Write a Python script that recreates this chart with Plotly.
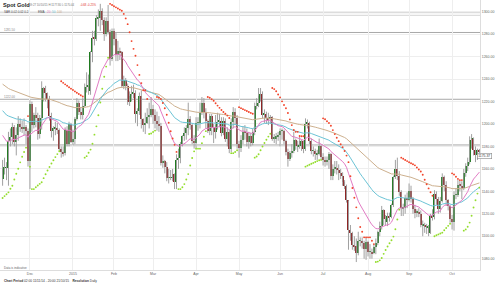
import pandas as pd
import plotly.graph_objects as go

# ---------------- data ----------------
all_days = pd.bdate_range("2014-11-11", "2015-10-21")
dates = [d for d in all_days if d.strftime("%m-%d") not in ("12-25", "01-01")]

opens = [
    1151,1160,1161,1161,1185,1188,1197,1184,1190,1200,1197,1196,1197,1194,
    1167,1218,1199,1208,1205,1191,1205,1232,1228,1226,1222,1207,1194,1196,1196,1195,1178,1175,1174,1195,1182,1200,
    1184,1187,1204,1219,1211,1208,1216,1233,1234,1229,1264,1277,1276,1294,1294,1301,1293,1280,1292,1282,1258,
    1283,1276,1261,1265,1264,1234,1239,1234,1220,1225,1227,1228,1209,1212,1225,1204,1199,1201,1206,1208,
    1213,1208,1203,1200,1198,1165,1167,1162,1152,1152,1152,1155,1148,1168,1170,1182,1189,1192,1196,1204,1199,1185,
    1183,1201,1201,1210,1219,1211,1203,1194,1207,1197,1193,1199,1202,1203,1192,1203,1187,1193,1178,1202,1211,1205,
    1182,1179,1186,1193,1192,1184,1189,1183,1193,1216,1219,1225,1227,1208,1209,1205,1204,1206,1187,1187,1189,
    1190,1194,1194,1185,1175,1169,1174,1176,1186,1180,1180,1185,1180,1178,1200,1201,1185,1176,1176,1173,1173,1180,
    1171,1168,1167,1168,1173,1154,1160,1161,1159,1156,1154,1148,1145,1132,1106,1103,1092,1091,1085,1096,1096,1094,1089,
    1095,1086,1086,1085,1090,1094,1104,1109,1123,1115,1113,1118,1117,1128,1153,1160,1154,1139,1125,1125,1134,
    1132,1140,1133,1124,1121,1121,1120,1110,1110,1108,1108,1103,1118,1117,1138,1133,1124,1131,1153,1146,1132,1127,
    1115,1113,1137,1137,1146,1145,1143,1156,1163,1166,1186,1187,1177,1172,1176.9,
]
highs = [
    1168,1170,1166,1193,1196,1201,1199,1197,1207,1205,1203,1205,1199,1196,
    1221,1220,1210,1215,1210,1208,1238,1233,1234,1228,1225,1210,1198,1202,1201,1196,1180,1180,1197,1198,1202,1201,
    1195,1206,1223,1221,1215,1223,1236,1246,1244,1265,1283,1283,1297,1302,1307,1303,1295,1295,1306,1284,1285,
    1285,1281,1274,1268,1265,1243,1241,1236,1229,1234,1235,1230,1214,1228,1230,1205,1210,1214,1219,1224,
    1217,1213,1211,1207,1201,1172,1168,1166,1160,1159,1160,1156,1173,1178,1184,1190,1197,1199,1219,1207,1200,1190,
    1206,1206,1219,1224,1223,1214,1204,1209,1209,1200,1208,1210,1209,1206,1206,1205,1197,1195,1205,1215,1214,1208,
    1185,1190,1198,1199,1196,1193,1192,1196,1219,1223,1232,1232,1229,1213,1211,1210,1208,1207,1191,1192,1193,
    1196,1196,1195,1186,1178,1176,1182,1193,1187,1185,1189,1186,1185,1205,1204,1202,1187,1180,1178,1177,1187,1181,
    1174,1171,1171,1175,1174,1164,1167,1167,1164,1160,1157,1150,1146,1132,1110,1104,1100,1098,1104,1099,1099,1096,1099,
    1096,1093,1089,1093,1098,1105,1113,1127,1124,1119,1121,1121,1129,1154,1168,1170,1158,1141,1129,1137,1139,
    1147,1145,1135,1128,1124,1125,1123,1114,1112,1111,1110,1120,1124,1141,1140,1135,1135,1156,1154,1149,1133,1128,
    1119,1140,1143,1150,1150,1149,1160,1165,1170,1189,1191,1188,1180,1178,1177.8,
]
lows = [
    1145,1155,1150,1145,1180,1182,1180,1172,1185,1193,1192,1190,1182,1162,
    1142,1193,1196,1197,1186,1187,1195,1220,1220,1214,1203,1188,1185,1190,1191,1176,1170,1171,1172,1180,1180,1183,
    1181,1182,1203,1208,1204,1204,1215,1228,1226,1226,1255,1270,1274,1287,1283,1288,1274,1278,1280,1252,1256,
    1270,1256,1256,1257,1232,1231,1230,1217,1216,1220,1223,1201,1198,1208,1196,1193,1191,1200,1196,1206,
    1200,1196,1194,1193,1163,1161,1156,1149,1147,1150,1149,1142,1142,1160,1165,1180,1185,1186,1190,1195,1182,1178,
    1178,1194,1196,1208,1205,1196,1192,1190,1190,1183,1187,1195,1197,1189,1190,1184,1180,1174,1175,1196,1199,1178,
    1170,1175,1182,1186,1180,1178,1180,1181,1190,1213,1215,1220,1205,1201,1200,1199,1200,1185,1183,1182,1185,
    1180,1186,1182,1172,1162,1167,1170,1174,1177,1175,1178,1176,1174,1176,1196,1182,1173,1171,1168,1168,1172,1168,
    1163,1162,1163,1160,1150,1150,1156,1155,1150,1151,1145,1142,1130,1088,1096,1088,1087,1077,1083,1091,1089,1080,1079,
    1082,1080,1080,1084,1084,1092,1100,1106,1110,1110,1109,1113,1116,1126,1151,1150,1136,1118,1118,1120,1125,
    1131,1130,1120,1116,1117,1117,1108,1100,1103,1102,1100,1102,1114,1115,1128,1120,1121,1130,1140,1127,1123,1112,
    1106,1105,1133,1135,1140,1133,1141,1153,1158,1164,1178,1172,1166,1168,1170.44,
]
closes = [
    1160,1161,1161,1185,1188,1197,1184,1190,1200,1197,1196,1197,1194,1167,
    1218,1199,1208,1205,1191,1205,1232,1228,1226,1222,1207,1194,1196,1196,1195,1178,1175,1174,1195,1182,1200,1184,
    1187,1204,1219,1211,1208,1216,1233,1234,1229,1264,1277,1276,1294,1294,1301,1293,1280,1292,1282,1258,1283,
    1276,1261,1265,1264,1234,1239,1234,1220,1225,1227,1228,1209,1212,1225,1204,1199,1201,1206,1208,1213,
    1208,1203,1200,1198,1165,1167,1162,1152,1152,1152,1155,1148,1168,1170,1182,1189,1192,1196,1204,1199,1185,1183,
    1201,1201,1210,1219,1211,1203,1194,1207,1197,1193,1199,1202,1203,1192,1203,1187,1193,1178,1202,1211,1205,1182,
    1179,1186,1193,1192,1184,1189,1183,1193,1216,1219,1225,1227,1208,1209,1205,1204,1206,1187,1187,1189,1190,
    1194,1194,1185,1175,1169,1174,1176,1186,1180,1180,1185,1180,1178,1200,1201,1185,1176,1176,1173,1173,1180,1171,
    1168,1167,1168,1173,1154,1160,1161,1159,1156,1154,1148,1145,1132,1106,1103,1092,1091,1085,1096,1096,1094,1089,1095,
    1086,1086,1085,1090,1094,1104,1109,1123,1115,1113,1118,1117,1128,1153,1160,1154,1139,1125,1125,1134,1132,
    1140,1133,1124,1121,1121,1120,1110,1110,1108,1108,1103,1118,1117,1138,1133,1124,1131,1153,1146,1132,1127,1115,
    1113,1137,1137,1146,1145,1143,1156,1163,1166,1186,1187,1177,1172,1177,1175.37,
]
assert len(dates) == len(opens) == len(highs) == len(lows) == len(closes), (len(dates), len(opens), len(highs), len(lows), len(closes))

month_labels = ["Dec", "2015", "Feb", "Mar", "Apr", "May", "Jun", "Jul", "Aug", "Sep", "Oct"]
price_ticks = [1080, 1100, 1120, 1140, 1160, 1180, 1200, 1220, 1240, 1260, 1280, 1300]
level_values = [1299.1, 1296.8, 1281.5, 1222.0, 1181.3]
ema_periods = [20, 50, 100]
ema_seeds = [1193, 1214, 1237]          # indicator values just before the first shown day
sar_params = (0.02, 0.02, 0.2)
sar_seed = (1134.0, 1178.0, 0.04)       # sar, extreme point, acceleration on first day (up trend)

# ---------------- indicators ----------------
n = len(closes)
idx = list(range(n))

def ema(vals, period, seed):
    a = 2.0 / (period + 1)
    out, prev = [], seed
    for v in vals:
        prev = a * v + (1 - a) * prev
        out.append(prev)
    return out

def psar(h, l, step0, step, stepmax, seed):
    sar, ep, af = seed
    up = True
    vals, trend = [], []
    for i in range(n):
        if i > 0:
            sar = sar + af * (ep - sar)
            if up:
                sar = min(sar, l[i - 1], l[max(i - 2, 0)])
                if l[i] < sar:
                    up, sar, ep, af = False, ep, l[i], step0
                elif h[i] > ep:
                    ep, af = h[i], min(af + step, stepmax)
            else:
                sar = max(sar, h[i - 1], h[max(i - 2, 0)])
                if h[i] > sar:
                    up, sar, ep, af = True, ep, h[i], step0
                elif l[i] < ep:
                    ep, af = l[i], min(af + step, stepmax)
        vals.append(sar)
        trend.append(up)
    return vals, trend

emas = [ema(closes, p, s) for p, s in zip(ema_periods, ema_seeds)]
sar_vals, sar_up = psar(highs, lows, *sar_params, sar_seed)

# ---------------- figure ----------------
W_PLOT, H_PLOT = 480, 270
fig = go.Figure()

# wicks
wx, wy = [], []
for i in idx:
    wx += [i, i, None]
    wy += [lows[i], highs[i], None]
fig.add_trace(go.Scatter(x=wx, y=wy, mode="lines", line=dict(color="#a0a0a0", width=1),
                         hoverinfo="skip", showlegend=False))

# bodies
UP_C, DN_C = "#1f7a1f", "#8e2424"
base = [min(o, c) for o, c in zip(opens, closes)]
height = [max(abs(c - o), 0.6) for o, c in zip(opens, closes)]
cols = [UP_C if c >= o else DN_C for o, c in zip(opens, closes)]
fig.add_trace(go.Bar(x=idx, y=height, base=base, marker=dict(color=cols, line=dict(width=0)),
                     width=0.6, hoverinfo="skip", showlegend=False))

ema_colors = ["#e27bc4", "#6cc4d6", "#cdb08e"]
for vals, col in zip(emas[::-1], ema_colors[::-1]):
    fig.add_trace(go.Scatter(x=idx, y=vals, mode="lines", line=dict(color=col, width=1),
                             hoverinfo="skip", showlegend=False))

up_x = [i for i in idx if sar_up[i]]
dn_x = [i for i in idx if not sar_up[i]]
fig.add_trace(go.Scatter(x=up_x, y=[sar_vals[i] for i in up_x], mode="markers",
                         marker=dict(color="#93dd2c", size=1.9), hoverinfo="skip", showlegend=False))
fig.add_trace(go.Scatter(x=dn_x, y=[sar_vals[i] for i in dn_x], mode="markers",
                         marker=dict(color="#f2452b", size=1.9), hoverinfo="skip", showlegend=False))

# horizontal levels
shapes = []
for k, v in enumerate(level_values):
    shapes.append(dict(type="line", xref="paper", x0=0, x1=1, yref="y", y0=v, y1=v,
                       line=dict(color="#d4d4d4" if k < 2 else "#a8a8a8", width=1), layer="below"))

# month ticks
month_idx = []
seen = set()
for i, d in enumerate(dates):
    key = (d.year, d.month)
    if i > 0 and key not in seen and (d.year, d.month) != (dates[0].year, dates[0].month):
        month_idx.append(i)
    seen.add(key)

FONT = "Liberation Sans"
ann = []
def add_text(px, py, text, size, color, xanchor="left", **kw):
    ann.append(dict(x=px / W_PLOT, y=1 - py / H_PLOT, xref="paper", yref="paper", text=text,
                    showarrow=False, xanchor=xanchor, yanchor="middle",
                    font=dict(family=FONT, size=size, color=color), **kw))

add_text(1, 5, "<b>Spot Gold</b>", 5.6, "#222222")
add_text(27, 5, "09:27 10/10/15 H:1177.80 L:1170.44", 2.8, "#777777")
add_text(78, 5, "-0.68 -0.25%", 2.8, "#e0302a")
add_text(2, 12, "SAR 0.02 0.02 0.2", 3, "#555555")
add_text(36, 12, "EMA", 3, "#555555")
add_text(45, 12, "20", 3, ema_colors[0])
add_text(50, 12, "50", 3, ema_colors[1])
add_text(55, 12, "100", 3, ema_colors[2])
add_text(2, 29.5, f"{level_values[2]:.2f}", 3, "#888888")
add_text(2, 96.5, f"{level_values[3]:.2f}", 3, "#888888")
add_text(2, 267.5, "Data is indicative", 3, "#666666")
add_text(2, 281, "<b>Chart Period</b> 02:00 11/11/14 - 20:00 21/10/15    <b>Resolution</b> Daily", 3.2, "#333333")
ann.append(dict(x=1.0, y=closes[-1], xref="paper", yref="y", text=f"{closes[-1]:.2f}",
                showarrow=False, xanchor="left", yanchor="middle", xshift=-3, yshift=-4,
                font=dict(family=FONT, size=3.4, color="#333333"),
                bgcolor="white", bordercolor="#888888", borderwidth=0.6, borderpad=0.6))

y_top = 1300 + 11.7 / 1.1227
y_bot = 1300 - 258.3 / 1.1227
fig.update_layout(
    width=500, height=285,
    margin=dict(l=0, r=20, t=0, b=15),
    paper_bgcolor="white", plot_bgcolor="white",
    barmode="overlay", bargap=0, showlegend=False,
    shapes=shapes, annotations=ann,
    xaxis=dict(range=[-1.33, 244.3], tickmode="array", tickvals=month_idx, ticktext=month_labels,
               showgrid=True, gridcolor="#eeeeee", gridwidth=1, zeroline=False,
               showline=True, linecolor="#dddddd", linewidth=1, ticks="",
               tickfont=dict(family=FONT, size=3.5, color="#666666"), ticklabelstandoff=0),
    yaxis=dict(range=[y_bot, y_top], side="right", tickmode="array", tickvals=price_ticks,
               ticktext=[f"{v:.2f}" for v in price_ticks],
               showgrid=True, gridcolor="#eeeeee", gridwidth=1, zeroline=False,
               showline=True, linecolor="#dddddd", linewidth=1, ticks="",
               tickfont=dict(family=FONT, size=3.5, color="#666666")),
)

fig.write_html("out.html")
